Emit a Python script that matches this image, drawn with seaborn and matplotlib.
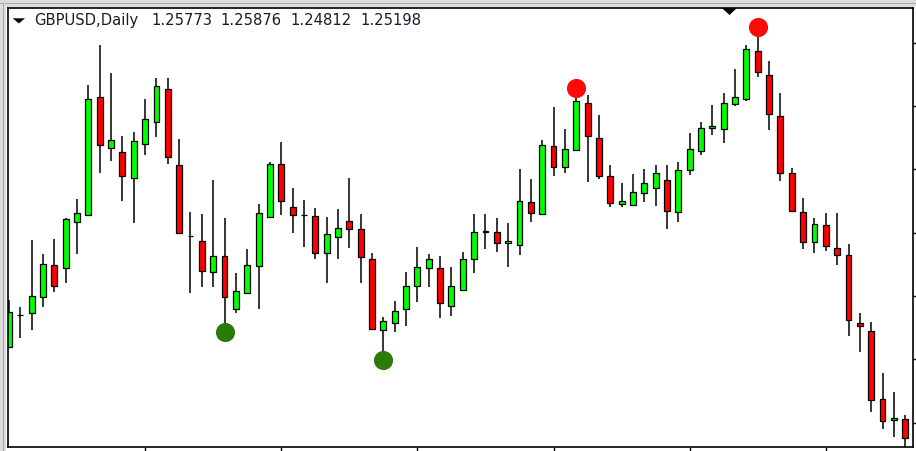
import numpy as np
import pandas as pd
import seaborn as sns
import matplotlib.pyplot as plt
from matplotlib.patches import Polygon, Rectangle

sns.set_style("white")
plt.rcParams['font.family'] = ['DejaVu Sans']

# daily GBPUSD candles
opens = [
    1.2794, 1.2888, 1.2894, 1.2944, 1.3038, 1.3029, 1.3169, 1.3189, 1.3542, 1.3391,
    1.3379, 1.3301, 1.3402, 1.3467, 1.3566, 1.3340, 1.3127, 1.3112, 1.3018, 1.3066,
    1.2906, 1.2954, 1.3037, 1.3184, 1.3342, 1.3212, 1.3190, 1.3186, 1.3076, 1.3122,
    1.3171, 1.3147, 1.3058, 1.2844, 1.2866, 1.2906, 1.2976, 1.3029, 1.3031, 1.2915,
    1.2964, 1.3057, 1.3139, 1.3139, 1.3104, 1.3099, 1.3228, 1.3192, 1.3396, 1.3332,
    1.3384, 1.3526, 1.3419, 1.3306, 1.3221, 1.3220, 1.3254, 1.3271, 1.3294, 1.3197,
    1.3324, 1.3382, 1.3449, 1.3446, 1.3521, 1.3537, 1.3681, 1.3608, 1.3487, 1.3314,
    1.3197, 1.3107, 1.3158, 1.3089, 1.3069, 1.2865, 1.2841, 1.2636, 1.2573, 1.25773]
highs = [
    1.2934, 1.2914, 1.3114, 1.3071, 1.3117, 1.3180, 1.3237, 1.3578, 1.3699, 1.3614,
    1.3427, 1.3438, 1.3536, 1.3601, 1.3601, 1.3416, 1.3199, 1.3191, 1.3294, 1.3179,
    1.3016, 1.3086, 1.3222, 1.3349, 1.3407, 1.3269, 1.3234, 1.3209, 1.3182, 1.3206,
    1.3299, 1.3191, 1.3074, 1.2884, 1.2931, 1.3019, 1.3094, 1.3071, 1.3066, 1.3034,
    1.3077, 1.3191, 1.3191, 1.3179, 1.3166, 1.3326, 1.3296, 1.3414, 1.3512, 1.3446,
    1.3544, 1.3549, 1.3489, 1.3339, 1.3284, 1.3312, 1.3326, 1.3338, 1.3338, 1.3348,
    1.3434, 1.3469, 1.3519, 1.3554, 1.3627, 1.3698, 1.3729, 1.3651, 1.3554, 1.3329,
    1.3241, 1.3179, 1.3194, 1.3194, 1.3101, 1.2896, 1.2869, 1.2714, 1.2659, 1.25876]
lows = [
    1.2793, 1.2819, 1.2844, 1.2914, 1.2958, 1.2986, 1.3071, 1.3187, 1.3315, 1.3350,
    1.3230, 1.3165, 1.3369, 1.3424, 1.3342, 1.3131, 1.2954, 1.2974, 1.2972, 1.2865,
    1.2896, 1.2953, 1.2906, 1.3183, 1.3189, 1.3134, 1.3094, 1.3056, 1.2986, 1.3056,
    1.3091, 1.2986, 1.2844, 1.2775, 1.2839, 1.2856, 1.2928, 1.2972, 1.2879, 1.2886,
    1.2963, 1.3014, 1.3087, 1.3079, 1.3034, 1.3068, 1.3169, 1.3191, 1.3306, 1.3316,
    1.3383, 1.3289, 1.3296, 1.3212, 1.3212, 1.3219, 1.3227, 1.3216, 1.3146, 1.3169,
    1.3308, 1.3370, 1.3429, 1.3406, 1.3516, 1.3531, 1.3603, 1.3444, 1.3292, 1.3199,
    1.3086, 1.3074, 1.3082, 1.3039, 1.2826, 1.2777, 1.2597, 1.2547, 1.2524, 1.24812]
closes = [
    1.2899, 1.2889, 1.2946, 1.3042, 1.2976, 1.3178, 1.3194, 1.3538, 1.3398, 1.3414,
    1.3306, 1.3410, 1.3477, 1.3576, 1.3364, 1.3134, 1.3126, 1.3022, 1.3066, 1.2944,
    1.2961, 1.3039, 1.3194, 1.3342, 1.3231, 1.3189, 1.3189, 1.3076, 1.3132, 1.3151,
    1.3146, 1.3064, 1.2846, 1.2872, 1.2902, 1.2977, 1.3034, 1.3058, 1.2924, 1.2977,
    1.3058, 1.3139, 1.3140, 1.3104, 1.3112, 1.3232, 1.3194, 1.3399, 1.3332, 1.3387,
    1.3530, 1.3426, 1.3306, 1.3224, 1.3232, 1.3259, 1.3284, 1.3314, 1.3201, 1.3324,
    1.3387, 1.3450, 1.3457, 1.3526, 1.3542, 1.3686, 1.3617, 1.3491, 1.3314, 1.3200,
    1.3108, 1.3162, 1.3096, 1.3069, 1.2874, 1.2855, 1.2634, 1.2572, 1.2581, 1.25198]

# swing points marked with dots
swing_low_bars = [19, 33]
swing_low_prices = [1.2838, 1.2754]
swing_high_bars = [50, 66]
swing_high_prices = [1.3569, 1.3754]

price_ticks = [1.2566, 1.2756, 1.2946, 1.3136, 1.3326, 1.3516, 1.3706]
bar_ticks = [12, 24, 36, 48, 60, 72]
header_values = ["1.25773", "1.25876", "1.24812", "1.25198"]

df = pd.DataFrame({"open": opens, "high": highs, "low": lows, "close": closes})
df["bar"] = np.arange(len(df))
df["up"] = df["close"] >= df["open"]

W, H = 916, 451
fig = plt.figure(figsize=(W / 100, H / 100), dpi=100)
fig.patch.set_facecolor("white")

# window frame bands (top and left)
fig.patches.append(Rectangle((0, 1 - 7 / H), 1, 7 / H, transform=fig.transFigure,
                             facecolor="#dcdcdc", edgecolor="none", zorder=0))
fig.patches.append(Rectangle((0, 0), 6 / W, 1, transform=fig.transFigure,
                             facecolor="#dcdcdc", edgecolor="none", zorder=0))
fig.patches.append(Rectangle((0, 1 - 4 / H), 1, 1 / H, transform=fig.transFigure,
                             facecolor="#a8a8a8", edgecolor="none", zorder=0))
fig.patches.append(Rectangle((3 / W, 0), 1 / W, 1 - 4 / H, transform=fig.transFigure,
                             facecolor="#a8a8a8", edgecolor="none", zorder=0))

ax = fig.add_axes([7.5 / W, 1 - 446.5 / H, 905 / W, 438.5 / H])
ax.set_facecolor("white")

# wicks
ax.vlines(df["bar"], df["low"], df["high"], color="black", lw=1.1, zorder=1)

# bodies
body_low = df[["open", "close"]].min(axis=1)
body_h = (df["close"] - df["open"]).abs().clip(lower=0.00008)
colors = np.where(df["up"], "#00ff00", "#ff0000")
ax.bar(df["bar"], body_h, bottom=body_low, width=0.52, color=colors,
       edgecolor="black", linewidth=0.9, zorder=2)

# swing dots
sns.scatterplot(x=swing_low_bars, y=swing_low_prices, color="#2a7a0c", s=190,
                linewidth=0, ax=ax, zorder=3, legend=False)
sns.scatterplot(x=swing_high_bars, y=swing_high_prices, color="#ff0a0a", s=190,
                linewidth=0, ax=ax, zorder=3, legend=False)

ax.set_xlim(-0.13, 79.64)
ax.set_ylim(1.24945, 1.3810)
ax.set_xlabel("")
ax.set_ylabel("")

ax.yaxis.tick_right()
ax.set_yticks(price_ticks)
ax.set_xticks(bar_ticks)
ax.tick_params(axis="y", right=True, left=False, labelright=False, labelleft=False,
               direction="out", length=3, width=1, color="black")
ax.tick_params(axis="x", bottom=True, labelbottom=False, direction="out",
               length=3, width=1, color="black")
for sp in ax.spines.values():
    sp.set_visible(True)
    sp.set_color("black")
    sp.set_linewidth(1.2)

# header
fig.patches.append(Polygon([[12.7 / W, 1 - 18.3 / H], [25 / W, 1 - 18.3 / H],
                            [18.85 / W, 1 - 23.5 / H]], closed=True,
                           transform=fig.transFigure, facecolor="black",
                           edgecolor="none", zorder=5))
fig.text(34 / W, 1 - 20.5 / H, "GBPUSD,Daily", fontsize=10.6, color="#1a1a2e",
         va="center", ha="left")
for xpos, val in zip([151, 220, 290, 360], header_values):
    fig.text(xpos / W, 1 - 20.5 / H, val, fontsize=10.6, color="#1a1a2e",
             va="center", ha="left")

# chart shift marker at the top
fig.patches.append(Polygon([[722 / W, 1 - 8 / H], [737 / W, 1 - 8 / H],
                            [729.5 / W, 1 - 15 / H]], closed=True,
                           transform=fig.transFigure, facecolor="black",
                           edgecolor="none", zorder=5))

fig.savefig("out.png", dpi=100)
